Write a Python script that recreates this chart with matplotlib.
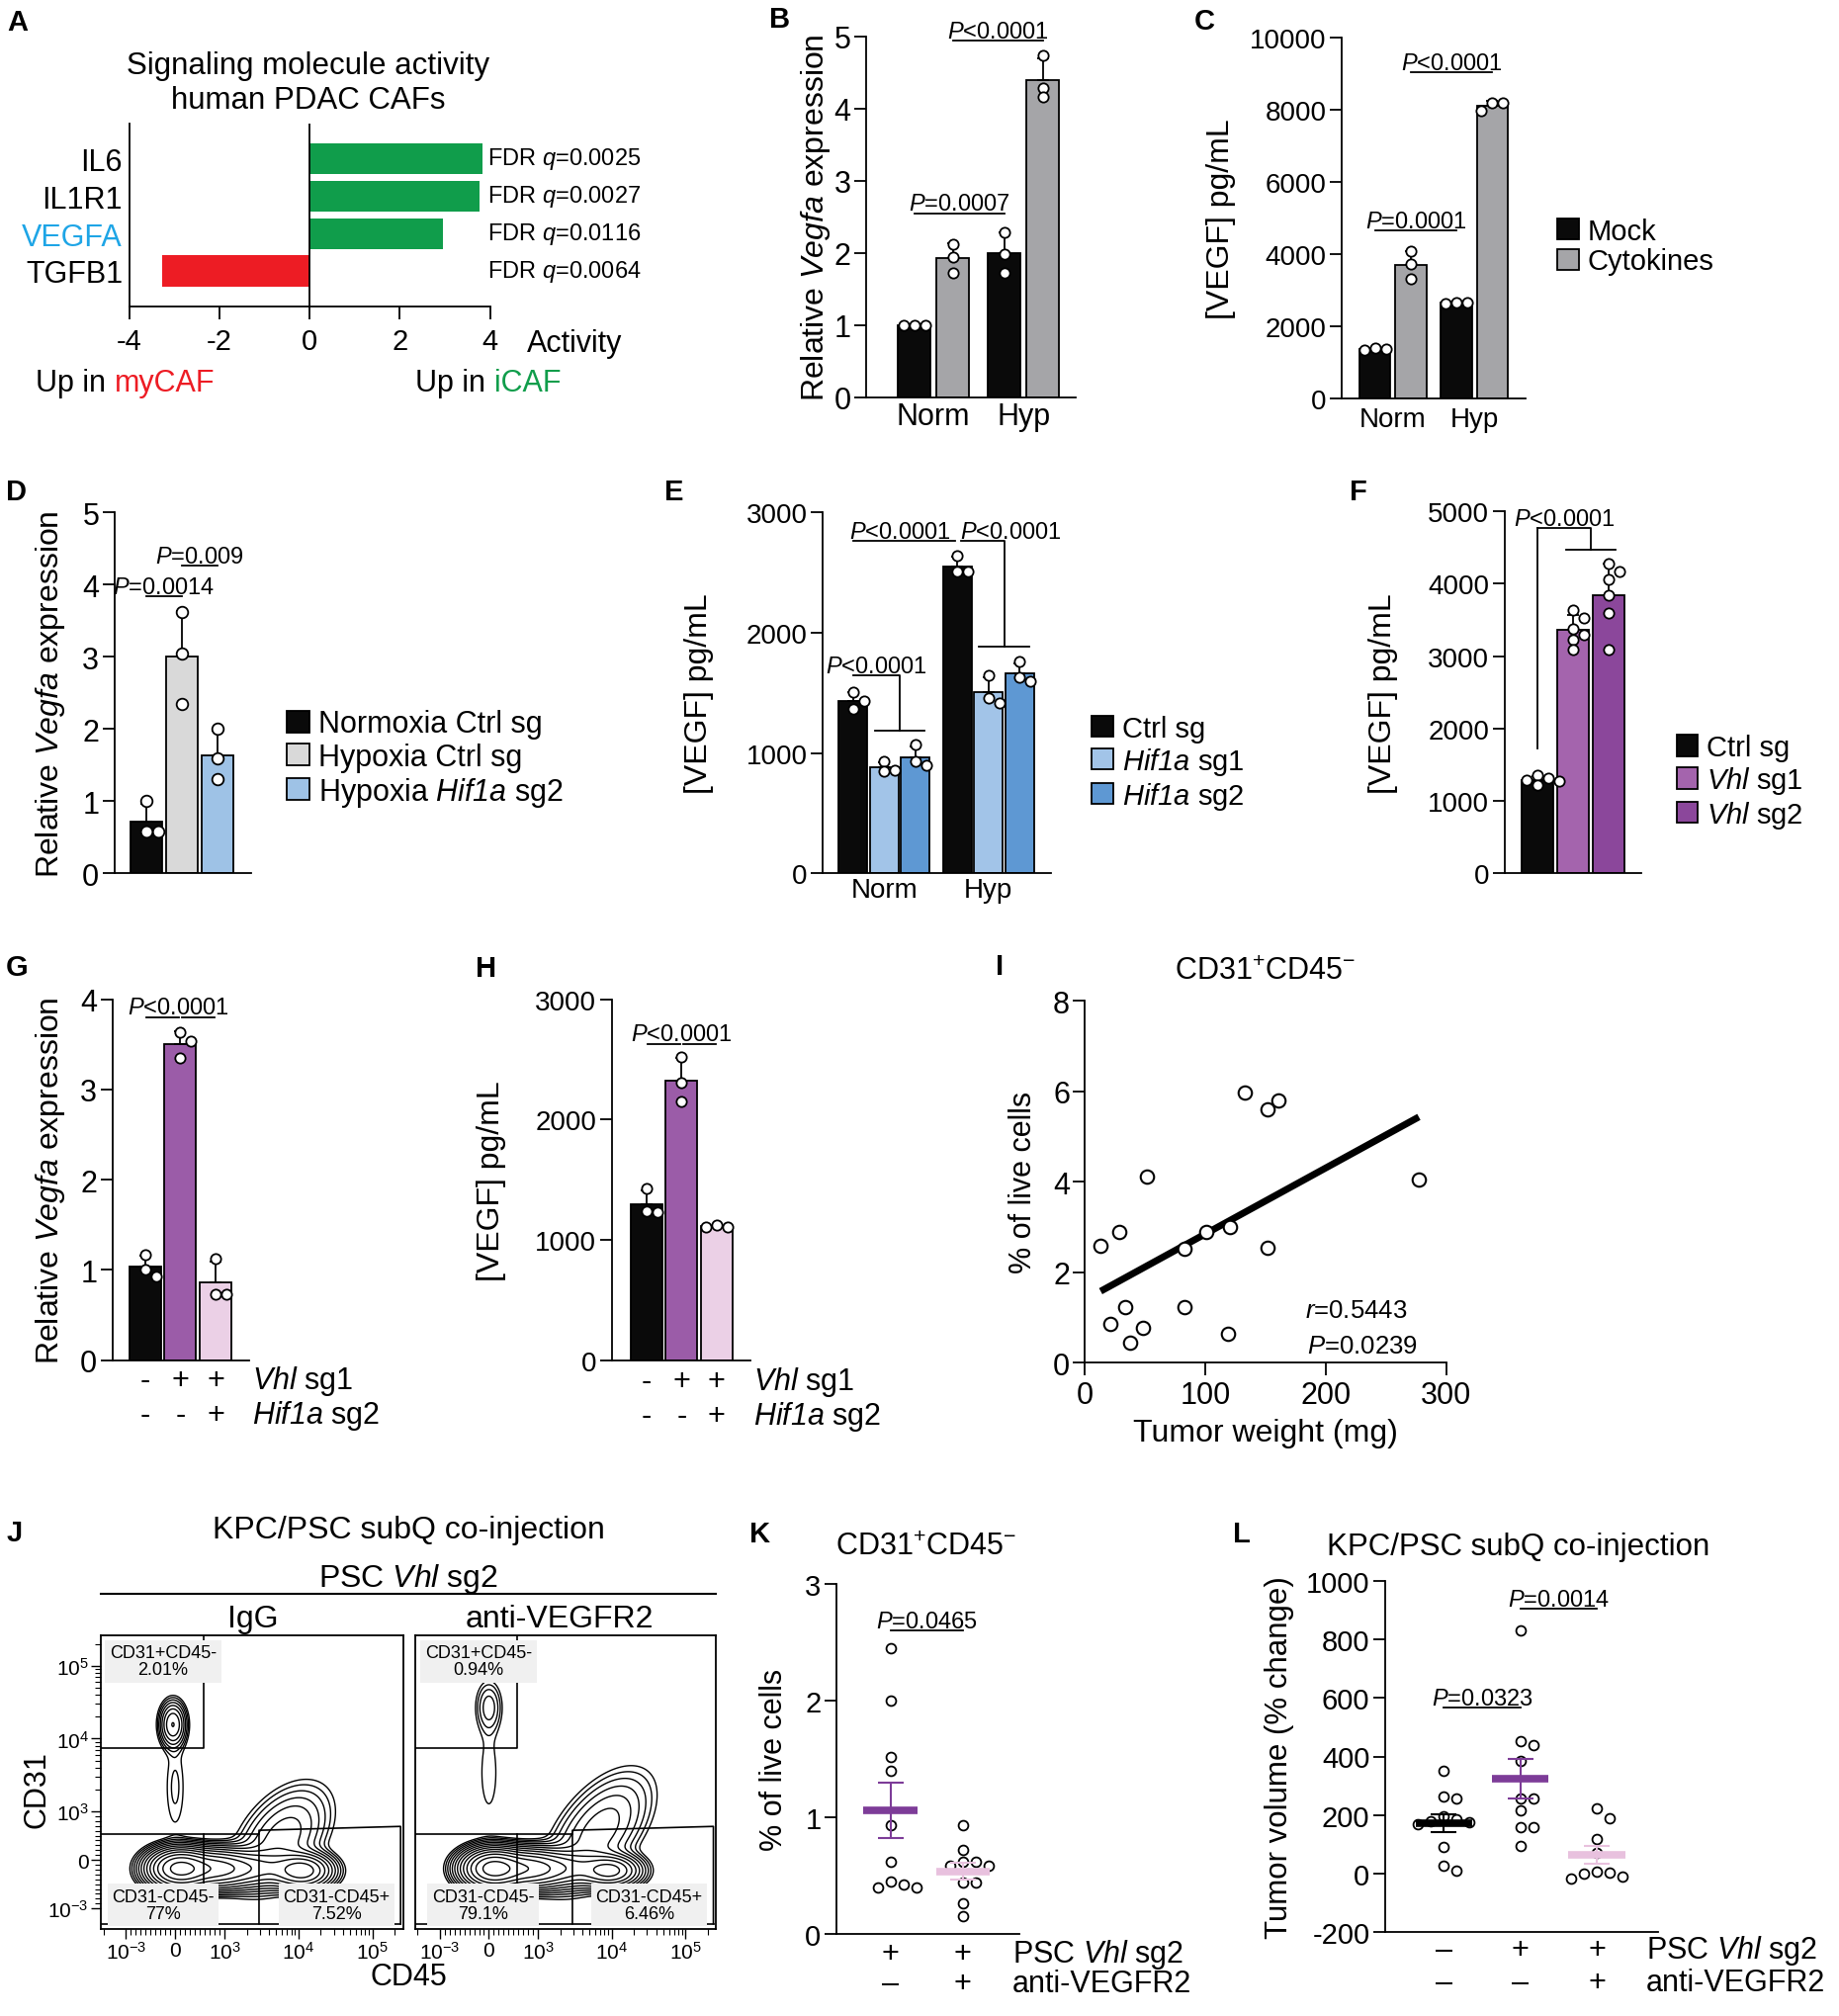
import numpy as np
import matplotlib
matplotlib.use("Agg")
import matplotlib.pyplot as plt
import matplotlib.transforms as mtransforms
from matplotlib.lines import Line2D
from matplotlib.ticker import FixedLocator
from matplotlib.scale import SymmetricalLogTransform

plt.rcParams["font.family"] = ["Liberation Sans", "DejaVu Sans"]
plt.rcParams["mathtext.fontset"] = "custom"
plt.rcParams["mathtext.rm"] = "Liberation Sans"
plt.rcParams["mathtext.it"] = "Liberation Sans:italic"
plt.rcParams["mathtext.sf"] = "Liberation Sans:italic"   # italic incl. digits
plt.rcParams["mathtext.bf"] = "Liberation Sans:bold"
plt.rcParams["axes.unicode_minus"] = False
plt.rcParams["axes.linewidth"] = 1.3

HIF = "$\\mathsf{Hif1a}$"

# ---------------- data ----------------
# A  signaling activity
a_genes = ["IL6", "IL1R1", "VEGFA", "TGFB1"]
a_activity = [3.83, 3.78, 2.96, -3.27]
a_fdr = ["0.0025", "0.0027", "0.0116", "0.0064"]

# B  relative Vegfa (replicates), groups Norm / Hyp
b_groups = ["Norm", "Hyp"]
b_mock = [[1.0, 1.0, 1.0], [2.29, 1.99, 1.73]]
b_cyto = [[2.12, 1.95, 1.72], [4.74, 4.29, 4.16]]
b_p = ["$P$=0.0007", "$P$<0.0001"]
b_p_y = [2.55, 4.94]

# C  VEGF ELISA
c_mock = [[1390, 1340, 1360], [2650, 2670, 2620]]
c_cyto = [[4080, 3720, 3310], [8200, 8180, 7960]]
c_p = ["$P$=0.0001", "$P$<0.0001"]
c_p_y = [4658, 9041]

# D
d_labels = ["Normoxia Ctrl sg", "Hypoxia Ctrl sg", "Hypoxia " + HIF + " sg2"]
d_vals = [[1.0, 0.575, 0.585], [3.62, 3.04, 2.35], [2.0, 1.60, 1.31]]
d_p = ["$P$=0.0014", "$P$=0.009"]
d_p_y = [3.84, 4.26]

# E
e_labels = ["Ctrl sg", HIF + " sg1", HIF + " sg2"]
e_ctrl = [[1507, 1433, 1370], [2644, 2507, 2507]]
e_sg1 = [[930, 860, 850], [1650, 1460, 1420]]
e_sg2 = [[1070, 930, 900], [1760, 1630, 1600]]
e_p_y = [1646, 1186, 2763, 1883]

# F
f_labels = ["Ctrl sg", "$Vhl$ sg1", "$Vhl$ sg2"]
f_vals = [[1360, 1320, 1290, 1270, 1220],
          [3640, 3530, 3380, 3300, 3230, 3090],
          [4280, 4170, 4060, 3840, 3600, 3090]]
f_p_y = [4765, 4469, 1723]

# G / H
g_vals = [[1.17, 0.93, 1.0], [3.63, 3.54, 3.35], [1.13, 0.73, 0.73]]
g_p_y = 3.80
h_vals = [[1425, 1233, 1238], [2521, 2307, 2151], [1120, 1110, 1110]]
h_p_y = 2629
gh_rows = (["-", "+", "+"], ["-", "-", "+"])
gh_row_labels = ["$Vhl$ sg1", HIF + " sg2"]

# I  correlation
i_weight = [13.1, 28.7, 21.4, 33.7, 37.8, 48.2, 51.5, 82.9, 82.9, 100.7,
            120.7, 118.5, 133.0, 151.9, 161.0, 151.9, 277.3]
i_pct = [2.59, 2.90, 0.86, 1.24, 0.44, 0.77, 4.12, 2.52, 1.24, 2.89,
         3.01, 0.64, 5.98, 5.61, 5.79, 2.55, 4.04]

# J  flow populations (centre x, centre y, spread x, spread y, correlation, weight),
#    in axis display units (decades of the symlog axis)
j_igg = [(0.05, -0.12, 0.20, 0.13, 0.0, 0.35), (0.50, -0.12, 0.30, 0.13, 0.0, 0.25),
         (1.10, -0.12, 0.35, 0.13, 0.0, 0.08), (1.72, -0.15, 0.20, 0.12, 0.0, 0.10),
         (1.45, 0.30, 0.32, 0.36, 0.45, 0.08), (-0.03, 1.86, 0.09, 0.16, 0.0, 0.02),
         (0.0, 1.0, 0.10, 0.45, 0.0, 0.005)]
j_anti = [(0.05, -0.12, 0.20, 0.13, 0.0, 0.37), (0.50, -0.12, 0.30, 0.13, 0.0, 0.27),
          (1.10, -0.12, 0.35, 0.13, 0.0, 0.08), (1.65, -0.15, 0.20, 0.11, 0.0, 0.08),
          (1.50, 0.40, 0.35, 0.40, 0.55, 0.09), (0.0, 2.10, 0.10, 0.20, 0.0, 0.006),
          (0.0, 1.20, 0.11, 0.50, 0.0, 0.005)]
j_pct_igg = ["2.01%", "77%", "7.52%"]
j_pct_anti = ["0.94%", "79.1%", "6.46%"]
gate_x_neg, gate_y_pos, gate_y_neg = 580, 7400, 530
gate_x_cd45, gate_y_cd45 = 2930, [610, 690]

# K / L
k_igg = [2.45, 2.0, 1.52, 1.40, 0.93, 0.62, 0.40, 0.45, 0.40, 0.42]
k_anti = [0.93, 0.72, 0.62, 0.62, 0.58, 0.58, 0.44, 0.44, 0.26, 0.15]
k_p_y = 2.60
l_ctrl = [350, 258, 263, 195, 185, 175, 170, 180, 90, 9, 26]
l_vhl = [832, 452, 438, 384, 258, 258, 215, 158, 158, 94]
l_anti = [224, 190, 118, 72, -12, 5, -2, 2, -18]
l_p_y = [566, 905]

BLACK = "#0a0a0a"
GRAY = "#a5a5a8"
PURPLE = "#9b5ca8"
PINK = "#ebd0e6"

# ---------------- helpers ----------------
W, H = 1860, 2040
fig = plt.figure(figsize=(W / 100, H / 100), dpi=100)


def add_ax(l, t, r, b):
    return fig.add_axes([l / W, 1 - b / H, (r - l) / W, (b - t) / H])


def ftext(x, y, s, **kw):
    kw.setdefault("ha", "center")
    kw.setdefault("va", "center")
    return fig.text(x / W, 1 - y / H, s, **kw)


def panel(x, y, s):
    ftext(x, y, s, ha="left", fontsize=21, fontweight="bold")


def prism(ax, size=22, both=False):
    ax.spines["top"].set_visible(False)
    ax.spines["right"].set_visible(False)
    ax.tick_params(axis="y", direction="out", length=9, width=1.3, labelsize=size, pad=2)
    if both:
        ax.tick_params(axis="x", direction="out", length=9, width=1.3, labelsize=size, pad=4)
    else:
        ax.tick_params(axis="x", length=0, labelsize=size, pad=3)
    ax.patch.set_alpha(0)


def px_scale(ax):
    x0, x1 = ax.get_xlim()
    y0, y1 = ax.get_ylim()
    bb = ax.get_position()
    return bb.width * W / (x1 - x0), bb.height * H / (y1 - y0)


def swarm(vals, ax, d=11.0):
    xs, ys = px_scale(ax)
    vals = np.asarray(vals, float)
    out = np.zeros(len(vals))
    placed = []
    for i in np.argsort(-vals, kind="stable"):
        y = vals[i] * ys
        for k in (0, 1, -1, 2, -2, 3, -3, 4, -4):
            dx = k * d
            if all((dx - p) ** 2 + (y - q) ** 2 >= (0.85 * d) ** 2 for p, q in placed):
                break
        placed.append((dx, y))
        out[i] = dx / xs
    return out


def bars(ax, xs, reps, colors, width, cap=4, ms=55, d=11.0):
    handles = []
    for x, v, c in zip(xs, reps, colors):
        v = np.asarray(v, float)
        m, sd = v.mean(), v.std(ddof=1)
        h = ax.bar(x, m, width, color=c, edgecolor="k", linewidth=1.3, zorder=2)
        ax.errorbar(x, m, yerr=[[0], [sd]], fmt="none", ecolor="k", elinewidth=1.3,
                    capsize=cap, capthick=1.3, zorder=3)
        ax.scatter(x + swarm(v, ax, d), v, s=ms, facecolor="white", edgecolor="k",
                   linewidth=1.3, zorder=4, clip_on=False)
        handles.append(h.patches[0])
    return handles


def dots_mean(ax, xs, groups, colors, half=0.37, cap=9.5, ms=50, d=13.0):
    for x, v, c in zip(xs, groups, colors):
        v = np.asarray(v, float)
        m, se = v.mean(), v.std(ddof=1) / np.sqrt(len(v))
        ax.scatter(x + swarm(v, ax, d), v, s=ms, facecolor="white", edgecolor="k",
                   linewidth=1.3, zorder=3, clip_on=False)
        ax.errorbar(x, m, yerr=se, fmt="none", ecolor=c, elinewidth=1.5, capsize=cap,
                    capthick=1.5, zorder=4)
        ax.hlines(m, x - half, x + half, color=c, lw=5.5, zorder=5)


def p_text(ax, x, y, label, ha="center", size=17):
    ax.annotate(label, (x, y), xytext=(0, 2.5), textcoords="offset points", ha=ha,
                va="baseline", fontsize=size, annotation_clip=False)


def sig(ax, x1, x2, y, label=None, tx=None, ha="center"):
    ax.plot([x1, x2], [y, y], color="k", lw=1.3, clip_on=False, zorder=5)
    if label:
        p_text(ax, (x1 + x2) / 2 if tx is None else tx, y, label, ha)


def bracket(ax, x0, xa, xb, y_top, y_low, label=None, tx=None, ha="center", y_start=None):
    xm = (xa + xb) / 2
    ax.plot([x0, xm, xm], [y_top, y_top, y_low], color="k", lw=1.3, clip_on=False, zorder=5)
    ax.plot([xa, xb], [y_low, y_low], color="k", lw=1.3, clip_on=False, zorder=5)
    if y_start is not None:
        ax.plot([x0, x0], [y_start, y_top], color="k", lw=1.3, clip_on=False, zorder=5)
    if label:
        p_text(ax, (x0 + xm) / 2 if tx is None else tx, y_top, label, ha)


def sign_rows(ax, xs, rows, labels, ys, label_x, size=22):
    tr = mtransforms.blended_transform_factory(ax.transData, fig.transFigure)
    for signs, lab, y in zip(rows, labels, ys):
        for x, s in zip(xs, signs):
            ax.text(x, 1 - y / H, s, transform=tr, ha="center", va="center", fontsize=size)
        ftext(label_x, y, lab, ha="left", fontsize=size)


def side_legend(ax, handles, labels, x, y, size=21):
    ax.legend(handles, labels, loc="center left", bbox_to_anchor=(x / W, 1 - y / H),
              bbox_transform=fig.transFigure, frameon=False, fontsize=size,
              handlelength=0.75, handleheight=0.75, handletextpad=0.3,
              labelspacing=0.1, borderpad=0, borderaxespad=0)


def ylab(ax, text, x_px, size=23):
    ax.set_ylabel(text, fontsize=size, va="center")
    bb = ax.get_position()
    ax.yaxis.set_label_coords((x_px / W - bb.x0) / bb.width, 0.5)


# ---------------- A ----------------
panel(7, 23, "A")
ax = add_ax(131, 126, 495.5, 311)
ya = np.arange(len(a_genes))
cols = ["#109d4b" if v > 0 else "#ed1c24" for v in a_activity]
ax.barh(ya, a_activity, height=0.82, color=cols, zorder=2)
ax.axvline(0, color="k", lw=1.3, zorder=3)
ax.set_xlim(-4, 4)
ax.set_ylim(3.95, -0.93)
ax.spines["top"].set_visible(False)
ax.spines["right"].set_visible(False)
ax.set_yticks(ya, a_genes)
ax.tick_params(axis="y", length=0, labelsize=22, pad=5)
ax.get_yticklabels()[2].set_color("#1ea5e6")
ax.set_xticks([-4, -2, 0, 2, 4])
ax.tick_params(axis="x", direction="out", length=9, width=1.3, labelsize=21, pad=6)
for y, q in zip(ya, a_fdr):
    ax.text(3.95, y, "FDR $q$=" + q, va="center", ha="left", fontsize=17, clip_on=False)
ftext(312, 67, "Signaling molecule activity", fontsize=22.5)
ftext(312, 102, "human PDAC CAFs", fontsize=22.5)
ftext(533, 348, "Activity", ha="left", fontsize=22)
t1 = ftext(36, 388, "Up in ", ha="left", fontsize=22)
ax.annotate("myCAF", xy=(1, 0), xycoords=t1, ha="left", va="bottom", color="#ed1c24",
            fontsize=22, annotation_clip=False)
t2 = ftext(420, 388, "Up in ", ha="left", fontsize=22)
ax.annotate("iCAF", xy=(1, 0), xycoords=t2, ha="left", va="bottom", color="#109d4b",
            fontsize=22, annotation_clip=False)

# ---------------- B ----------------
panel(778, 20, "B")
ax = add_ax(876, 38, 1088, 403)
prism(ax, 22)
ax.set_xlim(-0.75, 1.58)
ax.set_ylim(0, 5)
ax.set_yticks(range(6))
gx = np.arange(len(b_groups))
bars(ax, gx - 0.214, b_mock, [BLACK] * 2, 0.36)
bars(ax, gx + 0.214, b_cyto, [GRAY] * 2, 0.36)
ax.set_xticks(gx, b_groups)
sig(ax, -0.214, 0.786, b_p_y[0], b_p[0])
sig(ax, 0.214, 1.214, b_p_y[1], b_p[1])
ylab(ax, "Relative $Vegfa$ expression", 825)

# ---------------- C ----------------
panel(1208, 22, "C")
ax = add_ax(1357, 39, 1543, 404)
prism(ax, 20)
ax.set_xlim(-0.63, 1.63)
ax.set_ylim(0, 10000)
ax.set_yticks(range(0, 10001, 2000))
hm = bars(ax, gx - 0.22, c_mock, [BLACK] * 2, 0.38)
hc = bars(ax, gx + 0.22, c_cyto, [GRAY] * 2, 0.38)
ax.set_xticks(gx, b_groups)
ax.tick_params(axis="x", pad=6)
sig(ax, -0.22, 0.78, c_p_y[0], c_p[0])
sig(ax, 0.22, 1.22, c_p_y[1], c_p[1])
ylab(ax, "[VEGF] pg/mL", 1234.5)
side_legend(ax, [hm[0], hc[0]], ["Mock", "Cytokines"], 1575, 250)

# ---------------- D ----------------
panel(6, 498, "D")
ax = add_ax(115.5, 519.3, 254, 884.3)
prism(ax, 22)
ax.set_xlim(-0.9, 2.94)
ax.set_ylim(0, 5)
ax.set_yticks(range(6))
ax.set_xticks([])
hd = bars(ax, np.arange(3), d_vals, [BLACK, "#d9d9d9", "#9ec2e6"], 0.87, ms=70, d=12)
sig(ax, 0, 1, d_p_y[0], d_p[0])
sig(ax, 1, 2, d_p_y[1], d_p[1])
ylab(ax, "Relative $Vegfa$ expression", 51.4)
side_legend(ax, hd, d_labels, 290, 768.5, 22)

# ---------------- E ----------------
panel(672, 498, "E")
ax = add_ax(832, 519.3, 1063, 884.3)
prism(ax, 20)
ax.set_xlim(-0.59, 1.6)
ax.set_ylim(0, 3000)
ax.set_yticks(range(0, 3001, 1000))
h1 = bars(ax, gx - 0.3, e_ctrl, [BLACK] * 2, 0.275)
h2 = bars(ax, gx, e_sg1, ["#a2c4e8"] * 2, 0.275)
h3 = bars(ax, gx + 0.3, e_sg2, ["#5e98d3"] * 2, 0.275)
ax.set_xticks(gx, b_groups)
bracket(ax, -0.3, -0.09, 0.39, e_p_y[0], e_p_y[1], "$P$<0.0001")
sig(ax, -0.3, 0.68, e_p_y[2], "$P$<0.0001", tx=-0.33, ha="left")
bracket(ax, 0.74, 0.91, 1.39, e_p_y[2], e_p_y[3], "$P$<0.0001", tx=0.73, ha="left")
ylab(ax, "[VEGF] pg/mL", 707)
side_legend(ax, [h1[0], h2[0], h3[0]], e_labels, 1104, 772.7)

# ---------------- F ----------------
panel(1365, 498, "F")
ax = add_ax(1521.5, 518, 1660, 884.3)
prism(ax, 20)
ax.set_xlim(-0.93, 2.92)
ax.set_ylim(0, 5000)
ax.set_yticks(range(0, 5001, 1000))
ax.set_xticks([])
hf = bars(ax, np.arange(3), f_vals, [BLACK, "#a464ad", "#8b479b"], 0.89)
bracket(ax, 0, 0.8, 2.2, f_p_y[0], f_p_y[1], "$P$<0.0001", y_start=f_p_y[2])
ylab(ax, "[VEGF] pg/mL", 1399)
side_legend(ax, hf, f_labels, 1695.5, 792)

# ---------------- G ----------------
panel(6, 979, "G")
ax = add_ax(113.5, 1011.7, 252, 1376.7)
prism(ax, 22)
ax.set_xlim(-0.93, 2.95)
ax.set_ylim(0, 4)
ax.set_yticks(range(5))
ax.set_xticks([])
bars(ax, np.arange(3), g_vals, [BLACK, PURPLE, PINK], 0.9)
sig(ax, 0.03, 0.96, g_p_y)
sig(ax, 1.04, 1.97, g_p_y)
p_text(ax, 0.95, g_p_y, "$P$<0.0001")
sign_rows(ax, np.arange(3), gh_rows, gh_row_labels, [1396.7, 1431.7], 255)
ylab(ax, "Relative $Vegfa$ expression", 51)

# ---------------- H ----------------
panel(481, 980, "H")
ax = add_ax(618.6, 1011.7, 759, 1376.7)
prism(ax, 20)
ax.set_xlim(-0.99, 2.96)
ax.set_ylim(0, 3000)
ax.set_yticks(range(0, 3001, 1000))
ax.set_xticks([])
bars(ax, np.arange(3), h_vals, [BLACK, PURPLE, PINK], 0.9)
sig(ax, 0.03, 0.96, h_p_y)
sig(ax, 1.04, 1.97, h_p_y)
p_text(ax, 1.0, h_p_y, "$P$<0.0001")
sign_rows(ax, np.arange(3), gh_rows, gh_row_labels, [1398, 1433], 762)
ylab(ax, "[VEGF] pg/mL", 497.4)

# ---------------- I ----------------
panel(1007, 978, "I")
ax = add_ax(1097.3, 1013.3, 1462.7, 1379.3)
prism(ax, 22, both=True)
ax.scatter(i_weight, i_pct, s=95, facecolor="white", edgecolor="k", linewidth=1.5,
           zorder=3, clip_on=False)
slope, icpt = np.polyfit(i_weight, i_pct, 1)
xl = np.array([min(i_weight), max(i_weight)])
ax.plot(xl, slope * xl + icpt, color="k", lw=5, solid_capstyle="butt", zorder=2)
ax.set_xlim(0, 300)
ax.set_ylim(0, 8)
ax.set_xticks(range(0, 301, 100))
ax.set_yticks(range(0, 9, 2))
ax.set_xlabel("Tumor weight (mg)", fontsize=23, va="center")
ax.xaxis.set_label_coords(0.5, -(1450 - 1379.3) / 366)
ylab(ax, "% of live cells", 1035, 22)
ftext(1280, 983, "CD31$^{+}$CD45$^{-}$", fontsize=22)
ftext(1320, 1326, "$r$=0.5443", ha="left", fontsize=18.5)
ftext(1321.7, 1361.7, "$P$=0.0239", ha="left", fontsize=18.5)

# ---------------- J ----------------
panel(7, 1551, "J")
LINTHRESH = 1000
flow_tr = SymmetricalLogTransform(10, LINTHRESH, 0.6)
flow_inv = flow_tr.inverted()
XMIN, XMAX, YMIN, YMAX = -2150, 262144, -1900, 262144


def flow_density(pops):
    # grid in axis display units (decades), mapped back to data with the axis transform
    u = np.linspace(-1.0, 3.1, 420)
    v = np.linspace(-0.95, 3.1, 420)
    U, V = np.meshgrid(u, v)
    Z = np.zeros_like(U)
    for cx, cy, sx, sy, rho, w in pops:
        a = (U - cx) / sx
        b = (V - cy) / sy
        q = (a * a - 2 * rho * a * b + b * b) / (1 - rho * rho)
        Z += w / (2 * np.pi * sx * sy * np.sqrt(1 - rho * rho)) * np.exp(-0.5 * q)
    return flow_inv.transform(u * LINTHRESH), flow_inv.transform(v * LINTHRESH), Z


zmax = flow_density(j_igg)[2].max()
levels = zmax * np.geomspace(0.004, 0.8, 13)
flow_minor = np.concatenate([[-2000], np.arange(-900, 1000, 100),
                             [k * 10.0 ** e for e in (3, 4, 5) for k in range(2, 10)]])
flow_minor = flow_minor[flow_minor < XMAX]
flow_ticks = [-1000, 0, 1000, 1e4, 1e5]
flow_labels = ["10$^{-3}$", "0", "10$^{3}$", "10$^{4}$", "10$^{5}$"]
gate_names = ["CD31+CD45-", "CD31-CD45-", "CD31-CD45+"]

for (l, r, pops, pcts, pos) in [
        (102.4, 408, j_igg, j_pct_igg, [(0.205, 0.912), (0.205, 0.08), (0.778, 0.08)]),
        (420, 724.4, j_anti, j_pct_anti, [(0.21, 0.912), (0.225, 0.08), (0.776, 0.08)])]:
    ax = add_ax(l, 1655, r, 1951.7)
    ax.set_xscale("symlog", linthresh=LINTHRESH, linscale=0.6)
    ax.set_yscale("symlog", linthresh=LINTHRESH, linscale=0.6)
    fx, fy, Z = flow_density(pops)
    ax.contour(fx, fy, Z, levels=levels, colors="k", linewidths=1.0)
    ax.set_xlim(XMIN, XMAX)
    ax.set_ylim(YMIN, YMAX)
    gk = dict(color="k", lw=1.2, zorder=4)
    ax.plot([XMIN, gate_x_neg, gate_x_neg], [gate_y_pos, gate_y_pos, YMAX], **gk)
    ax.plot([XMIN, gate_x_cd45], [gate_y_neg, gate_y_neg], **gk)
    ax.plot([gate_x_neg, gate_x_neg], [gate_y_neg, -1630], **gk)
    ax.plot([gate_x_cd45, gate_x_cd45, 240000, 240000],
            [-1630, gate_y_cd45[0], gate_y_cd45[1], -1630], **gk)
    ax.plot([XMIN, 240000], [-1630, -1630], **gk)
    for (px, py), name, pc in zip(pos, gate_names, pcts):
        ax.text(px, py, name + "\n" + pc, transform=ax.transAxes, ha="center", va="center",
                fontsize=13, linespacing=1.0, zorder=6,
                bbox=dict(boxstyle="square,pad=0.25", fc="#f0f0f0", ec="none"))
    ax.set_xticks(flow_ticks, flow_labels)
    ax.xaxis.set_minor_locator(FixedLocator(flow_minor))
    ax.tick_params(axis="x", which="major", direction="out", length=7, width=1.0, labelsize=15, pad=2)
    ax.tick_params(axis="x", which="minor", direction="out", length=4, width=0.8)
    if l < 200:
        ax.set_yticks(flow_ticks, flow_labels)
        ax.yaxis.set_minor_locator(FixedLocator(flow_minor))
        ax.tick_params(axis="y", which="major", direction="out", length=7, width=1.0, labelsize=15, pad=2)
        ax.tick_params(axis="y", which="minor", direction="out", length=4, width=0.8)
    else:
        ax.set_yticks([])
        ax.yaxis.set_minor_locator(FixedLocator([]))

ftext(413, 1548, "KPC/PSC subQ co-injection", fontsize=23)
ftext(413, 1596.7, "PSC $Vhl$ sg2", fontsize=23)
fig.add_artist(Line2D([101.5 / W, 724 / W], [1 - 1612.7 / H] * 2, color="k", lw=1.5))
ftext(256, 1638, "IgG", fontsize=23)
ftext(566, 1638, "anti-VEGFR2", fontsize=23)
ftext(37.8, 1810, "CD31", fontsize=22, rotation=90)
ftext(413, 2000, "CD45", fontsize=22)

# ---------------- K ----------------
panel(758, 1552, "K")
ax = add_ax(845.7, 1603.3, 1031.4, 1956.7)
prism(ax, 21)
ax.set_xlim(-0.75, 1.79)
ax.set_ylim(0, 3)
ax.set_yticks(range(4))
ax.set_xticks([])
dots_mean(ax, [0, 1], [k_igg, k_anti], ["#7d3c98", "#e8c1de"])
sig(ax, 0, 1, k_p_y, "$P$=0.0465")
ftext(937, 1565, "CD31$^{+}$CD45$^{-}$", fontsize=22)
ylab(ax, "% of live cells", 783, 22)
sign_rows(ax, [0, 1], (["+", "+"], ["\u2013", "+"]), ["PSC $Vhl$ sg2", "anti-VEGFR2"],
          [1976.7, 2006.7], 1024)

# ---------------- L ----------------
panel(1247, 1552, "L")
ax = add_ax(1400.7, 1600, 1677, 1955)
prism(ax, 21)
ax.set_xlim(-0.77, 2.8)
ax.set_ylim(-200, 1000)
ax.set_yticks(range(-200, 1001, 200))
ax.set_xticks([])
dots_mean(ax, [0, 1, 2], [l_ctrl, l_vhl, l_anti], ["#000000", "#7d3c98", "#e8c1de"])
sig(ax, 0, 1, l_p_y[0], "$P$=0.0323")
sig(ax, 1, 2, l_p_y[1], "$P$=0.0014")
ftext(1536, 1565, "KPC/PSC subQ co-injection", fontsize=22.5)
ylab(ax, "Tumor volume (% change)", 1293.6, 22.5)
sign_rows(ax, [0, 1, 2], (["\u2013", "+", "+"], ["\u2013", "\u2013", "+"]),
          ["PSC $Vhl$ sg2", "anti-VEGFR2"], [1973, 2006], 1665)

fig.savefig("out.png", dpi=100)
